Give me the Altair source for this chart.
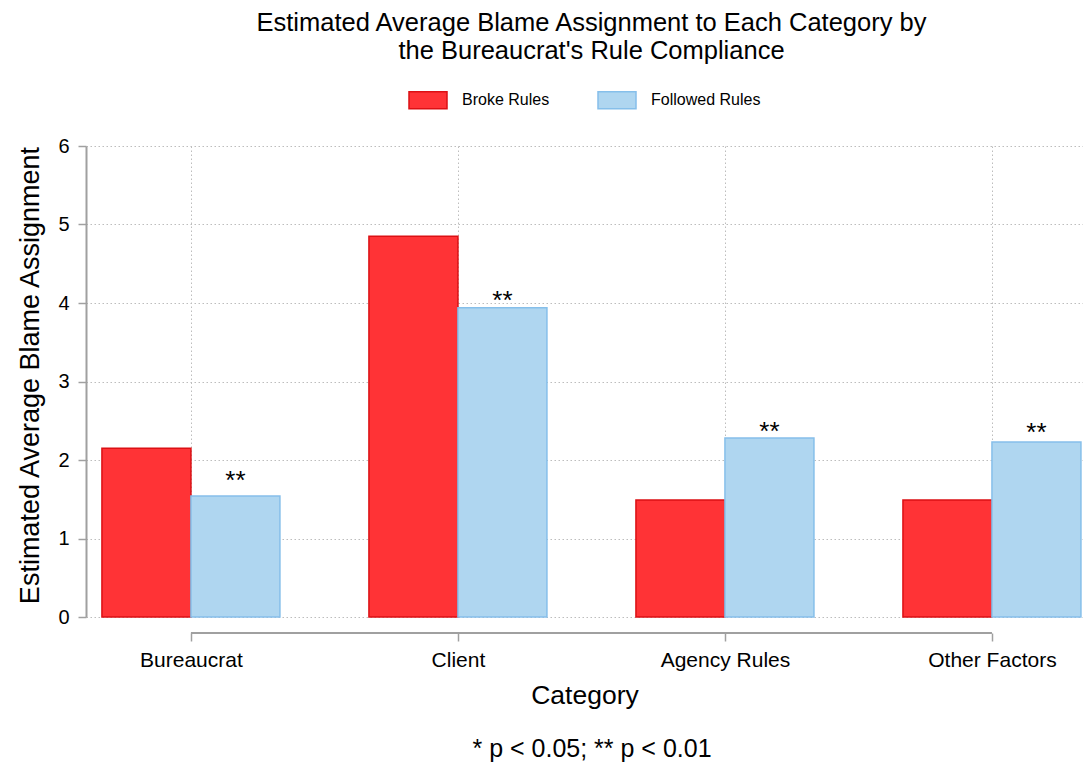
import json
import altair as alt
import pandas as pd

categories = ["Bureaucrat", "Client", "Agency Rules", "Other Factors"]
groups = ["Broke Rules", "Followed Rules"]
broke = [2.15, 4.85, 1.49, 1.49]
followed = [1.54, 3.94, 2.28, 2.23]
stars = ["**", "**", "**", "**"]
star_y = [1.78, 4.08, 2.41, 2.39]

rows = []
for i, c in enumerate(categories):
    rows.append(dict(cat=c, idx=i, group=groups[0], value=broke[i], x0=i - 1/3, x1=i))
    rows.append(dict(cat=c, idx=i, group=groups[1], value=followed[i], x0=i, x1=i + 1/3))
df = pd.DataFrame(rows)
star_df = pd.DataFrame(dict(xc=[i + 1/6 for i in range(len(categories))], y=star_y, t=stars))
axis_df = pd.DataFrame(dict(a=[0], b=[len(categories) - 1]))
note_df = pd.DataFrame(dict(t=["* p < 0.05; ** p < 0.01"]))

FONT = "Liberation Sans"
W, H = 997, 471
GRAY = "#a0a0a0"
GRID = "#bdbdbd"

xscale = alt.Scale(domain=[-0.393, 3.341], nice=False, zero=False)
yscale = alt.Scale(domain=[0, 6], nice=False)
label_expr = json.dumps(categories) + "[datum.value]"

fill_scale = alt.Scale(domain=groups, range=["#FF3336", "#AFD6F0"])
stroke_scale = alt.Scale(domain=groups, range=["#DC1014", "#86BFEA"])

legend = alt.Legend(
    title=None, orient="none", legendX=322, legendY=-66, direction="horizontal",
    symbolType="M-1,-0.447L1,-0.447L1,0.447L-1,0.447Z", symbolSize=1444,
    symbolStrokeWidth=1.5, labelFontSize=16, labelFont=FONT, labelColor="#000",
    labelOffset=14, columnPadding=45, symbolOpacity=1,
)

bars = alt.Chart(df).mark_bar(strokeWidth=1.5, opacity=1).encode(
    x=alt.X("x0:Q", scale=xscale, title="Category",
            axis=alt.Axis(values=[0, 1, 2, 3], labelExpr=label_expr, offset=16,
                          domain=False, tickSize=8, tickColor=GRAY, tickWidth=1.5,
                          grid=True, gridDash=[1.5, 2.5], gridColor=GRID,
                          labelFontSize=21, labelFont=FONT, labelColor="#000",
                          labelPadding=8, titleFontSize=26.5, titleFont=FONT,
                          titleFontWeight="normal", titleColor="#000", titlePadding=12)),
    x2="x1:Q",
    y=alt.Y("value:Q", scale=yscale, title="Estimated Average Blame Assignment",
            axis=alt.Axis(values=[0, 1, 2, 3, 4, 5, 6], format="d", domainColor=GRAY,
                          domainWidth=2, tickSize=8, tickColor=GRAY, tickWidth=1.5,
                          grid=True, gridDash=[1.5, 2.5], gridColor=GRID,
                          labelFontSize=20, labelFont=FONT, labelColor="#000",
                          labelPadding=9, titleFontSize=27, titleFont=FONT,
                          titleFontWeight="normal", titleColor="#000", titlePadding=13,
                          titleY=229)),
    y2=alt.datum(0),
    fill=alt.Fill("group:N", scale=fill_scale, legend=legend),
    stroke=alt.Stroke("group:N", scale=stroke_scale, legend=legend),
)

star_text = alt.Chart(star_df).mark_text(fontSize=26, font=FONT, color="#000",
                                         baseline="alphabetic", dy=12).encode(
    x=alt.X("xc:Q", scale=xscale), y=alt.Y("y:Q", scale=yscale), text="t:N")

xdomain = alt.Chart(axis_df).mark_rule(color=GRAY, strokeWidth=2).encode(
    x=alt.X("a:Q", scale=xscale), x2="b:Q", y=alt.value(H + 16))

note = alt.Chart(note_df).mark_text(fontSize=25, font=FONT, color="#000").encode(
    x=alt.value(506), y=alt.value(603), text="t:N")

chart = alt.layer(bars, star_text, xdomain, note).properties(
    width=W, height=H,
    title=alt.TitleParams(
        ["Estimated Average Blame Assignment to Each Category by",
         "the Bureaucrat's Rule Compliance"],
        fontSize=25.5, font=FONT, fontWeight="normal", color="#000",
        anchor="middle", offset=16, lineHeight=27.5, dx=7),
    autosize=alt.AutoSizeParams(type="none"),
    padding={"left": 78, "top": 138, "right": 0, "bottom": 145},
).configure_view(stroke=None)

chart.save("out.html", embed_options={"renderer": "svg", "actions": False})
